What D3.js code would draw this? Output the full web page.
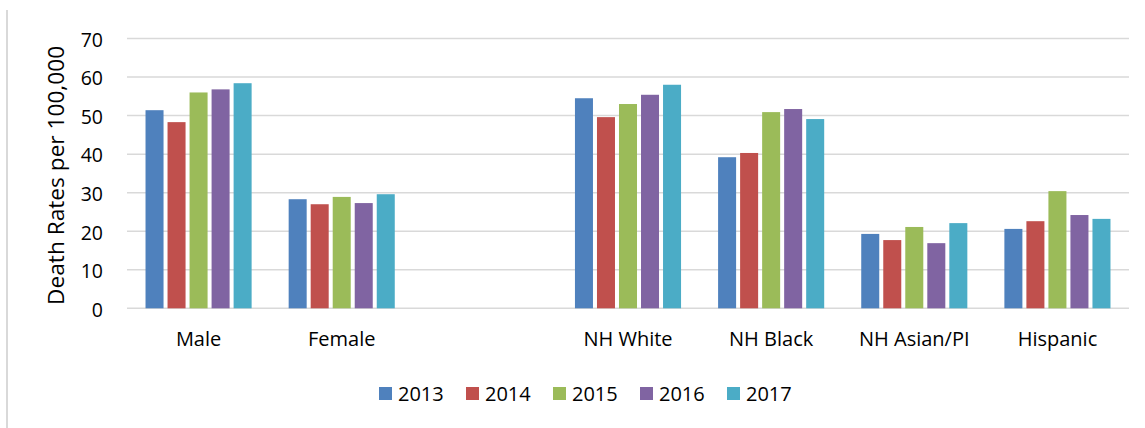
<!DOCTYPE html>
<html>
<head>
<meta charset="utf-8">
<script src="https://cdn.jsdelivr.net/npm/d3@7"></script>
<style>
  body { margin: 0; background: #fff; }
  svg { display: block; font-family: "Open Sans", sans-serif; }
</style>
</head>
<body>
<svg id="chart"></svg>
<script>
const categories = ["Male", "Female", "", "NH White", "NH Black", "NH Asian/PI", "Hispanic"];
const years = ["2013", "2014", "2015", "2016", "2017"];
const colors = ["#4F81BD", "#C0504D", "#9BBB59", "#8064A2", "#4BACC6"];
// one array per year, in category order (blank slot = null)
const rates2013 = [51.4, 28.3, null, 54.5, 39.2, 19.3, 20.6];
const rates2014 = [48.3, 27.0, null, 49.6, 40.3, 17.7, 22.6];
const rates2015 = [56.0, 28.9, null, 53.0, 50.9, 21.1, 30.4];
const rates2016 = [56.8, 27.3, null, 55.4, 51.7, 16.9, 24.2];
const rates2017 = [58.4, 29.6, null, 58.0, 49.1, 22.1, 23.2];
const yTicks = [0, 10, 20, 30, 40, 50, 60, 70];

const series = [rates2013, rates2014, rates2015, rates2016, rates2017];

const width = 1145, height = 428;
const margin = { left: 127, right: 16, top: 38.5, bottom: 119.7 };

const svg = d3.select("#chart").attr("width", width).attr("height", height);

// left frame edge
svg.append("line")
  .attr("x1", 7).attr("x2", 7).attr("y1", 10).attr("y2", height)
  .attr("stroke", "#d9d9d9").attr("stroke-width", 2);

const x0 = d3.scaleBand()
  .domain(d3.range(categories.length))
  .range([margin.left, width - margin.right]);

const x1 = d3.scaleBand()
  .domain(years)
  .range([0, x0.bandwidth()])
  .paddingInner(0.182)
  .paddingOuter(0.841);

const y = d3.scaleLinear()
  .domain([0, 70])
  .range([height - margin.bottom, margin.top]);

// gridlines
svg.append("g")
  .selectAll("line")
  .data(yTicks)
  .join("line")
  .attr("x1", margin.left)
  .attr("x2", width - margin.right)
  .attr("y1", d => y(d))
  .attr("y2", d => y(d))
  .attr("stroke", "#d9d9d9")
  .attr("stroke-width", 1.5);

// y axis labels
const yAxis = svg.append("g")
  .attr("transform", `translate(${103},0)`)
  .call(d3.axisLeft(y).tickValues(yTicks).tickSize(0).tickPadding(0));
yAxis.select(".domain").remove();
yAxis.selectAll("text")
  .attr("font-family", "Open Sans, sans-serif")
  .attr("font-size", "19.5px")
  .attr("dy", "0.4em")
  .attr("fill", "#000");

// bars
years.forEach((yr, i) => {
  svg.append("g")
    .selectAll("rect")
    .data(series[i].map((v, j) => ({ v, j })).filter(d => d.v != null))
    .join("rect")
    .attr("x", d => x0(d.j) + x1(yr))
    .attr("width", x1.bandwidth())
    .attr("y", d => y(d.v))
    .attr("height", d => y(0) - y(d.v))
    .attr("fill", colors[i]);
});

// x axis labels
const xAxis = svg.append("g")
  .attr("transform", `translate(0,${y(0) + 23})`)
  .call(d3.axisBottom(x0).tickFormat(i => categories[i]).tickSize(0).tickPadding(0));
xAxis.select(".domain").remove();
xAxis.selectAll("text")
  .attr("font-family", "Open Sans, sans-serif")
  .attr("font-size", "20px")
  .attr("fill", "#000");

// axis title
svg.append("text")
  .attr("transform", `translate(64,${(y(0) + y(70)) / 2 + 2}) rotate(-90)`)
  .attr("text-anchor", "middle")
  .attr("font-size", "21px")
  .attr("textLength", 259)
  .attr("lengthAdjust", "spacingAndGlyphs")
  .text("Death Rates per 100,000");

// legend
const legend = svg.append("g").attr("transform", "translate(379,387)");
const item = legend.selectAll("g")
  .data(years)
  .join("g")
  .attr("transform", (d, i) => `translate(${i * 87},0)`);
item.append("rect")
  .attr("x", 0).attr("y", 0).attr("width", 13).attr("height", 13)
  .attr("fill", (d, i) => colors[i]);
item.append("text")
  .attr("x", 19).attr("y", 14)
  .attr("font-size", "20px")
  .text(d => d);
</script>
</body>
</html>
